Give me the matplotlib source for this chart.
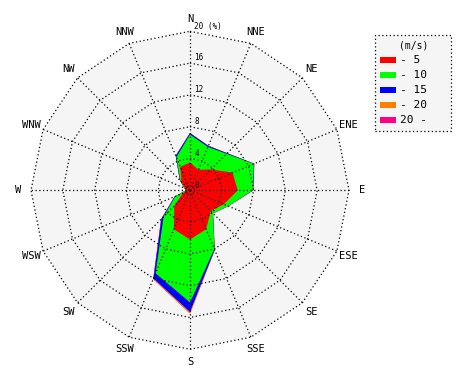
import numpy as np
import matplotlib
matplotlib.use("Agg")
import matplotlib.pyplot as plt
from matplotlib.patches import Rectangle

directions = ["N", "NNE", "NE", "ENE", "E", "ESE", "SE", "SSE",
              "S", "SSW", "SW", "WSW", "W", "WNW", "NW", "NNW"]
speed_labels = ["- 5", "- 10", "- 15", "- 20", "20 -"]
speed_colors = ["#ff0000", "#00ff00", "#0000ff", "#ff8000", "#ff0080"]

# frequency (%) per direction for each speed class
freq_5 = [3.5, 2.8, 3.7, 5.8, 6.0, 4.6, 3.7, 5.3, 6.2, 5.3, 2.8, 1.0, 0.4, 0.7, 1.5, 3.2]
freq_10 = [3.5, 3.1, 2.8, 2.9, 1.9, 0.6, 0.4, 2.7, 7.9, 6.0, 1.9, 1.0, 0.1, 0.1, 0.2, 1.3]
freq_15 = [0.2, 0.15, 0.1, 0.05, 0.05, 0.0, 0.0, 0.1, 1.2, 0.7, 0.4, 0.1, 0.0, 0.0, 0.1, 0.2]
freq_20 = [0.0, 0.0, 0.0, 0.0, 0.0, 0.0, 0.0, 0.05, 0.2, 0.1, 0.05, 0.0, 0.0, 0.0, 0.0, 0.0]
freq_20p = [0.0] * 16

ring_values = [4, 8, 12, 16, 20]
ring_labels = ["4", "8", "12", "16", "20 (%)"]

W, H = 470, 380
cx, cy = 190.0, 190.3
scale = 7.95  # px per %

fig = plt.figure(figsize=(W / 100, H / 100), dpi=100)
ax = fig.add_axes([0, 0, 1, 1])
ax.set_xlim(-cx / scale, (W - cx) / scale)
ax.set_ylim(-(H - cy) / scale, cy / scale)
ax.axis("off")

theta = np.deg2rad(np.arange(16) * 22.5)
sx, sy = np.sin(theta), np.cos(theta)

def closed(v):
    v = np.asarray(v, dtype=float)
    return np.append(v * sx, v[0] * sx[0]), np.append(v * sy, v[0] * sy[0])

# background polygon
rmax = ring_values[-1]
bx, by = closed([rmax] * 16)
ax.fill(bx, by, color="#f5f5f5", zorder=0, lw=0)

# stacked filled areas
classes = [freq_5, freq_10, freq_15, freq_20, freq_20p]
cum = np.cumsum(np.array(classes), axis=0)
for i in range(len(classes) - 1, -1, -1):
    px, py = closed(cum[i])
    ax.fill(px, py, color=speed_colors[i], lw=0, zorder=1 + (len(classes) - i))

dot = (0, (1, 2))
for r in ring_values:
    rx, ry = closed([r] * 16)
    ax.plot(rx, ry, color="black", lw=0.9, ls=dot, zorder=10)
for k in range(16):
    ax.plot([0, rmax * sx[k]], [0, rmax * sy[k]], color="black", lw=0.9, ls=dot, zorder=10)

font = "DejaVu Sans Mono"
for r, lab in zip(ring_values, ring_labels):
    ax.text(0.55, r + 0.1, lab, fontsize=5.5, family=font, ha="left", va="bottom", zorder=11)
ax.text(0.55, 0.0, "0", fontsize=5.5, family=font, ha="left", va="bottom", zorder=11)

lr = 21.6
for k, d in enumerate(directions):
    ax.text(lr * sx[k], lr * sy[k], d, fontsize=7.5, family=font, ha="center", va="center")

# legend (drawn in figure pixel coordinates)
def fx(x):
    return x / W

def fy(y):
    return 1 - y / H

fig.add_artist(Rectangle((fx(375), fy(131)), (451 - 375) / W, (131 - 35) / H,
                         transform=fig.transFigure, facecolor="#f5f5f5",
                         edgecolor="black", linestyle=(0, (1, 2)), lw=0.9, zorder=20))
fig.text(fx(414), fy(45), "(m/s)", family=font, fontsize=7, ha="center", va="center", zorder=21)
for i, (lab, c) in enumerate(zip(speed_labels, speed_colors)):
    yy = 60 + 15 * i
    fig.add_artist(Rectangle((fx(380), fy(yy + 2.5)), 16 / W, 5 / H,
                             transform=fig.transFigure, facecolor=c, lw=0, zorder=21))
    fig.text(fx(400), fy(yy), lab, family=font, fontsize=8, ha="left", va="center", zorder=21)

fig.savefig("out.png", dpi=100)
